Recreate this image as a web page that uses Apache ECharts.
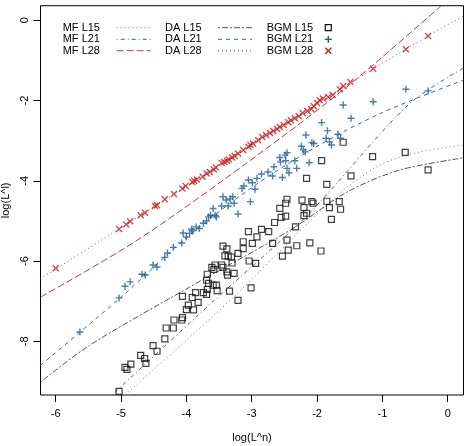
<!DOCTYPE html>
<html><head><meta charset="utf-8">
<script src="https://cdn.jsdelivr.net/npm/echarts@6/dist/echarts.min.js"></script>
<style>html,body{margin:0;padding:0;background:#fff}#c{width:468px;height:446px}</style>
</head><body><div id="c"></div>
<script>
const xTicks=[-6,-5,-4,-3,-2,-1,0];
const yTicks=[-8,-6,-4,-2,0];
const legendNames=['MF L15','MF L21','MF L28','DA L15','DA L21','DA L28','BGM L15','BGM L21','BGM L28'];

const bgmL28=[[-6.00,-6.18],[-5.03,-5.20],[-4.92,-5.09],[-4.86,-5.01],[-4.70,-4.86],[-4.63,-4.80],[-4.48,-4.63],[-4.45,-4.61],[-4.33,-4.46],[-4.19,-4.33],[-4.06,-4.19],[-4.01,-4.13],[-3.91,-4.03],[-3.88,-4.00],[-3.84,-3.97],[-3.75,-3.90],[-3.69,-3.82],[-3.64,-3.78],[-3.58,-3.72],[-3.55,-3.67],[-3.46,-3.55],[-3.42,-3.53],[-3.38,-3.50],[-3.35,-3.47],[-3.30,-3.42],[-3.26,-3.38],[-3.21,-3.32],[-3.13,-3.23],[-3.05,-3.15],[-3.02,-3.11],[-2.98,-3.07],[-2.90,-2.99],[-2.84,-2.91],[-2.78,-2.86],[-2.72,-2.81],[-2.67,-2.76],[-2.61,-2.71],[-2.57,-2.66],[-2.51,-2.61],[-2.44,-2.54],[-2.40,-2.49],[-2.34,-2.44],[-2.28,-2.39],[-2.22,-2.31],[-2.15,-2.26],[-2.09,-2.21],[-2.05,-2.14],[-2.00,-2.06],[-1.96,-1.99],[-1.91,-1.95],[-1.83,-1.91],[-1.76,-1.86],[-1.65,-1.72],[-1.60,-1.64],[-1.49,-1.54],[-1.14,-1.21],[-0.64,-0.72],[-0.30,-0.39]];

const bgmL21=[[-5.63,-7.77],[-5.03,-6.92],[-4.94,-6.63],[-4.86,-6.52],[-4.68,-6.33],[-4.63,-6.35],[-4.51,-6.10],[-4.45,-6.15],[-4.33,-5.91],[-4.29,-5.80],[-4.20,-5.66],[-4.07,-5.55],[-4.05,-5.30],[-4.00,-5.40],[-3.95,-5.31],[-3.92,-5.21],[-3.90,-5.25],[-3.85,-5.15],[-3.80,-5.19],[-3.74,-5.06],[-3.69,-5.00],[-3.66,-4.90],[-3.63,-4.86],[-3.59,-4.69],[-3.56,-4.86],[-3.54,-4.90],[-3.46,-4.63],[-3.44,-4.40],[-3.39,-4.48],[-3.36,-4.63],[-3.33,-4.45],[-3.29,-4.40],[-3.27,-4.56],[-3.21,-4.83],[-3.15,-4.19],[-3.12,-4.13],[-3.05,-3.98],[-3.02,-4.52],[-2.99,-4.05],[-2.92,-3.94],[-2.95,-4.21],[-2.85,-3.83],[-2.75,-3.78],[-2.66,-3.65],[-2.68,-3.88],[-2.57,-3.42],[-2.56,-3.53],[-2.53,-3.92],[-2.49,-3.36],[-2.46,-3.30],[-2.48,-3.50],[-2.46,-3.69],[-2.43,-3.80],[-2.34,-3.50],[-2.31,-3.69],[-2.24,-3.14],[-2.21,-3.23],[-2.18,-3.28],[-2.17,-2.86],[-2.12,-3.55],[-2.08,-3.05],[-2.05,-3.07],[-1.93,-2.55],[-1.86,-2.94],[-1.84,-2.75],[-1.81,-3.03],[-1.78,-3.11],[-1.68,-2.84],[-1.64,-2.94],[-1.60,-2.11],[-1.48,-2.44],[-1.14,-2.03],[-0.64,-1.72],[-0.30,-1.76]];

const bgmL15=[[-5.03,-9.25],[-4.94,-8.65],[-4.91,-8.70],[-4.85,-8.57],[-4.70,-8.35],[-4.64,-8.43],[-4.62,-8.55],[-4.51,-8.11],[-4.45,-8.25],[-4.33,-7.94],[-4.31,-7.67],[-4.20,-7.67],[-4.19,-7.47],[-4.07,-7.47],[-4.06,-7.41],[-4.06,-6.88],[-4.00,-7.21],[-3.97,-7.10],[-3.89,-7.22],[-3.91,-6.91],[-3.86,-6.79],[-3.82,-7.03],[-3.74,-6.79],[-3.69,-6.83],[-3.68,-6.71],[-3.69,-6.48],[-3.68,-6.33],[-3.66,-6.56],[-3.59,-6.60],[-3.54,-6.60],[-3.53,-6.74],[-3.61,-6.16],[-3.58,-6.21],[-3.56,-6.10],[-3.46,-6.10],[-3.44,-6.16],[-3.38,-6.27],[-3.37,-6.35],[-3.34,-6.75],[-3.27,-6.31],[-3.21,-6.98],[-3.44,-5.63],[-3.38,-5.70],[-3.41,-5.87],[-3.36,-5.88],[-3.31,-5.90],[-3.30,-6.05],[-3.21,-5.81],[-3.13,-5.69],[-3.13,-5.52],[-2.99,-5.56],[-3.04,-6.00],[-2.94,-6.06],[-3.01,-6.67],[-3.05,-5.27],[-2.92,-5.40],[-2.74,-5.27],[-2.68,-5.56],[-2.53,-5.88],[-2.46,-5.48],[-2.44,-5.73],[-2.85,-5.21],[-2.65,-5.04],[-2.55,-4.91],[-2.48,-4.88],[-2.57,-4.69],[-2.48,-4.56],[-2.31,-5.62],[-2.33,-5.15],[-2.20,-4.67],[-2.20,-4.87],[-2.16,-4.81],[-2.08,-4.52],[-2.06,-4.56],[-1.85,-4.51],[-1.81,-4.67],[-1.66,-4.52],[-1.64,-4.71],[-1.78,-4.96],[-2.11,-5.55],[-1.94,-5.75],[-2.23,-4.48],[-1.60,-3.04],[-1.93,-3.50],[-2.16,-3.94],[-1.85,-4.09],[-1.48,-3.88],[-1.15,-3.40],[-0.65,-3.29],[-0.30,-3.73],[-2.46,-4.46]];

const mfL15=[[-4.94,-9.34],[-3.33,-6.98],[-1.77,-4.48],[-1.04,-3.61],[-0.42,-3.28],[0.242,-3.11]];
const mfL21=[[-5.14,-9.34],[-3.64,-7.08],[-2.15,-4.86],[-0.60,-2.10],[0.242,-1.19]];
const mfL28=[[-6.233,-6.90],[-4.75,-5.48],[-2.87,-3.31],[-1.50,-1.60],[-0.10,0.36]];
const daL15=[[-6.233,-9.02],[-5.48,-8.10],[-3.95,-6.65],[-2.41,-5.23],[-1.54,-4.28],[-0.73,-3.73],[0.242,-3.43]];
const daL21=[[-6.233,-8.60],[-5.0,-6.90],[-4.0,-5.42],[-3.0,-4.17],[-2.0,-3.14],[-1.0,-2.30],[0.242,-1.49]];
const daL28=[[-6.233,-6.44],[-5.30,-5.48],[-1.14,-1.21],[-0.30,-0.39],[0.242,0.11]];

const GRAY='#707070', DGRAY='#555555', BLUE='#3a64a0', RED='#cc3348';
const plusPath='path://M5,0L5,10M0,5L10,5';
const crossPath='path://M0,0L10,10M10,0L0,10';

function lineSeries(name,data,color,dash){
  return {name,type:'line',data,symbol:'none',smooth:0.3,silent:true,
    lineStyle:{color,width:1,type:dash},z:2};
}
const series=[
  lineSeries('MF L15',mfL15,GRAY,[1,3]),
  lineSeries('MF L21',mfL21,BLUE,[1,3,4,3]),
  lineSeries('MF L28',mfL28,RED,[7,3]),
  lineSeries('DA L15',daL15,DGRAY,[2,2,6,2]),
  lineSeries('DA L21',daL21,BLUE,[4,4]),
  lineSeries('DA L28',daL28,RED,[1,3]),
  {name:'BGM L15',type:'scatter',data:bgmL15,symbol:'rect',symbolSize:6,
    itemStyle:{color:'rgba(0,0,0,0)',borderColor:'#111',borderWidth:1.2},z:3},
  {name:'BGM L21',type:'scatter',data:bgmL21,symbol:plusPath,symbolSize:7,
    itemStyle:{color:'rgba(0,0,0,0)',borderColor:'#1f5c99',borderWidth:1.4},z:3},
  {name:'BGM L28',type:'scatter',data:bgmL28,symbol:crossPath,symbolSize:6,
    itemStyle:{color:'rgba(0,0,0,0)',borderColor:'#cc1f1f',borderWidth:1.4},z:3}
];

const FONT='Liberation Sans';
const legendGraphics=[];
const cols=[{tx:62.7,lx:116.7},{tx:165,lx:218},{tx:266.7,lx:317}];
const rowsY=[27.7,39.3,50.7];
const legendStyles=[[GRAY,[1,3]],[BLUE,[1,3,4,3]],[RED,[7,3]],[DGRAY,[2,2,6,2]],[BLUE,[4,4]],[RED,[1,3]]];
legendNames.forEach((nm,i)=>{
  const c=Math.floor(i/3), r=i%3;
  legendGraphics.push({type:'text',x:cols[c].tx,y:rowsY[r],
    style:{text:nm,font:'11px '+FONT,fill:'#000',verticalAlign:'middle',align:'left'}});
  if(c<2){
    const st=legendStyles[i];
    legendGraphics.push({type:'line',shape:{x1:cols[c].lx,y1:rowsY[r],x2:cols[c].lx+34,y2:rowsY[r]},
      style:{stroke:st[0],lineWidth:1,lineDash:st[1]}});
  }
});
const sx=328.3;
legendGraphics.push({type:'rect',shape:{x:sx-3,y:rowsY[0]-3,width:6,height:6},style:{fill:'none',stroke:'#111',lineWidth:1.2}});
legendGraphics.push({type:'line',shape:{x1:sx,y1:rowsY[1]-3.5,x2:sx,y2:rowsY[1]+3.5},style:{stroke:'#1f5c99',lineWidth:1.4}});
legendGraphics.push({type:'line',shape:{x1:sx-3.5,y1:rowsY[1],x2:sx+3.5,y2:rowsY[1]},style:{stroke:'#1f5c99',lineWidth:1.4}});
legendGraphics.push({type:'line',shape:{x1:sx-3,y1:rowsY[2]-3,x2:sx+3,y2:rowsY[2]+3},style:{stroke:'#cc1f1f',lineWidth:1.4}});
legendGraphics.push({type:'line',shape:{x1:sx+3,y1:rowsY[2]-3,x2:sx-3,y2:rowsY[2]+3},style:{stroke:'#cc1f1f',lineWidth:1.4}});

const chart=echarts.init(document.getElementById('c'),null,{renderer:'canvas'});
chart.setOption({
  animation:false,
  backgroundColor:'#fff',
  textStyle:{fontFamily:FONT},
  grid:{left:40.5,right:4.5,top:5.7,bottom:51,show:true,borderColor:'#000',borderWidth:1,
    backgroundColor:'transparent',containLabel:false,outerBoundsMode:'none'},
  xAxis:{type:'value',min:-6.233,max:0.242,name:'log(L^n)',nameLocation:'middle',nameGap:37,
    nameTextStyle:{fontSize:11,color:'#000',fontFamily:FONT},
    axisLine:{show:false,onZero:false},splitLine:{show:false},
    axisTick:{show:true,length:7,lineStyle:{color:'#000'},customValues:xTicks},
    axisLabel:{fontSize:11,color:'#000',margin:13,customValues:xTicks,fontFamily:FONT}},
  yAxis:{type:'value',min:-9.34,max:0.364,name:'log(L^l)',nameLocation:'middle',nameGap:28,
    nameTextStyle:{fontSize:11,color:'#000',fontFamily:FONT},
    axisLine:{show:false,onZero:false},splitLine:{show:false},
    axisTick:{show:true,length:7,lineStyle:{color:'#000'},customValues:yTicks},
    axisLabel:{fontSize:11,color:'#000',margin:10,rotate:90,customValues:yTicks,fontFamily:FONT}},
  graphic:legendGraphics,
  series
});
</script></body></html>
